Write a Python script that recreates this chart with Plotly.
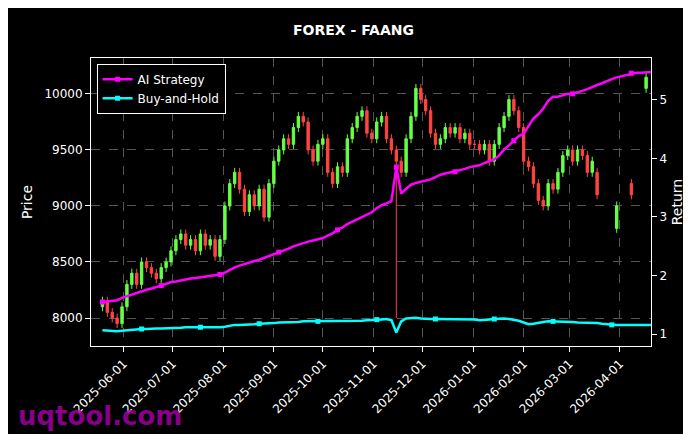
import plotly.graph_objects as go
import pandas as pd

dates = pd.date_range("2025-05-19", periods=113, freq="3D")
closes = [8150, 8050, 8000, 7950, 8100,
          8300, 8400, 8300, 8500, 8450,
          8400, 8350, 8450, 8500, 8600,
          8700, 8750, 8650, 8700, 8600,
          8750, 8650, 8700, 8550, 8700,
          9000, 9200, 9300, 9150, 8950,
          9100, 9000, 9150, 8900, 9200,
          9400, 9500, 9600, 9550, 9700,
          9800, 9750, 9500, 9400, 9550,
          9600, 9300, 9200, 9350, 9300,
          9600, 9700, 9800, 9850, 9650,
          9600, 9750, 9800, 9600, 9500,
          9400, 9300, 9600, 9800, 10050, 9950,
          9850, 9650, 9550, 9600, 9700,
          9650, 9700, 9600, 9650, 9550,
          9550, 9500, 9550, 9400, 9550,
          9700, 9800, 9950, 9850, 9700,
          9400, 9350, 9200, 9050, 9000,
          9200, 9150, 9300, 9450, 9500,
          9400, 9500, 9450, 9300, 9400,
          9100, None, None, None, 9000, None, None, 9100, None, None, 10150, None, None]
opens = [8100, 8150, 8050, 8000, 7950,
         8100, 8300, 8400, 8300, 8500,
         8450, 8400, 8350, 8450, 8500,
         8600, 8700, 8750, 8650, 8700,
         8600, 8750, 8650, 8700, 8550,
         8700, 9000, 9200, 9300, 9150,
         8950, 9100, 9000, 9150, 8900,
         9200, 9400, 9500, 9600, 9550,
         9700, 9800, 9750, 9500, 9400,
         9550, 9600, 9300, 9200, 9350,
         9300, 9600, 9700, 9800, 9850,
         9650, 9600, 9750, 9800, 9600,
         9500, 9400, 9300, 9600, 9800, 10050,
         9950, 9850, 9650, 9550, 9600,
         9700, 9650, 9700, 9600, 9650,
         9550, 9550, 9500, 9550, 9400,
         9550, 9700, 9800, 9950, 9850,
         9700, 9400, 9350, 9200, 9050,
         9000, 9200, 9150, 9300, 9450,
         9500, 9400, 9500, 9450, 9300,
         9300, None, None, None, 8800, None, None, 9200, None, None, 10050, None, None]
spike_low = {60: 8000}

ai_ret = [1.55, 1.56, 1.57, 1.58, 1.62, 1.65, 1.68, 1.70, 1.73, 1.76, 1.78, 1.80, 1.83, 1.86, 1.89,
          1.90, 1.92, 1.93, 1.95, 1.96, 1.97, 1.98, 1.99, 2.00, 2.02, 2.05,
          2.10, 2.14, 2.17, 2.20, 2.23, 2.25, 2.27, 2.30, 2.33, 2.36,
          2.40, 2.43, 2.46, 2.50, 2.53, 2.55, 2.58, 2.60, 2.62, 2.64,
          2.68, 2.72, 2.78, 2.82, 2.88, 2.92, 2.96, 3.00, 3.04, 3.08,
          3.15, 3.20, 3.23, 3.27, 3.85, 3.40, 3.48, 3.55, 3.58, 3.60,
          3.62, 3.64, 3.68, 3.72, 3.74, 3.76, 3.77, 3.79, 3.82, 3.85,
          3.86, 3.88, 3.92, 3.95, 3.98, 4.05, 4.15, 4.22, 4.30, 4.38,
          4.42, 4.55, 4.68, 4.75, 4.85, 4.98, 5.05, 5.05, 5.08, 5.10,
          5.10, 5.12, 5.15, 5.18, 5.22, 5.25, 5.28, 5.32, 5.35, 5.38,
          5.40, 5.42, 5.45, 5.46, 5.46, 5.47, 5.47]
bh_ret = [1.07, 1.06, 1.05, 1.05, 1.06, 1.07, 1.08, 1.08, 1.09, 1.09, 1.10, 1.10, 1.10, 1.10, 1.11,
          1.11, 1.11, 1.12, 1.12, 1.12, 1.12, 1.12, 1.11, 1.12, 1.12, 1.13, 1.15, 1.16, 1.16, 1.16, 1.17, 1.17, 1.18, 1.18, 1.19, 1.19,
          1.20, 1.20, 1.21, 1.21, 1.21, 1.22, 1.22, 1.22, 1.22, 1.23, 1.23, 1.23, 1.22, 1.22, 1.22, 1.23, 1.23, 1.23, 1.24, 1.24,
          1.25, 1.25, 1.26, 1.24, 1.03, 1.22, 1.27, 1.28, 1.28, 1.27,
          1.26, 1.26, 1.26, 1.26, 1.26, 1.25, 1.25, 1.25, 1.25, 1.25, 1.25, 1.24, 1.24, 1.25, 1.26, 1.27, 1.27, 1.26, 1.25, 1.23,
          1.20, 1.17, 1.18, 1.20, 1.21, 1.22, 1.22, 1.22, 1.22, 1.21, 1.21, 1.20, 1.20, 1.19, 1.20, 1.19, 1.18, 1.17, 1.16, 1.16,
          1.16, 1.16, 1.16, 1.16, 1.16, 1.16, 1.16]

highs, lows = [], []
for i, (o, c) in enumerate(zip(opens, closes)):
    if o is None or c is None:
        highs.append(None); lows.append(None); continue
    highs.append(max(o, c) + 40)
    lows.append(spike_low.get(i, min(o, c) - 40))

fig = go.Figure()
fig.add_trace(go.Candlestick(x=dates, open=opens, high=highs, low=lows, close=closes,
                             increasing=dict(line=dict(color="#66ff44", width=1), fillcolor="#66ff44"),
                             decreasing=dict(line=dict(color="#ff4444", width=1), fillcolor="#ff4444"),
                             whiskerwidth=0, showlegend=False, yaxis="y"))
fig.add_trace(go.Scatter(x=dates, y=ai_ret, name="AI Strategy", mode="lines+markers",
                         line=dict(color="#ff00ff", width=2.5), marker=dict(size=5, symbol="square", maxdisplayed=10),
                         yaxis="y2"))
fig.add_trace(go.Scatter(x=dates, y=bh_ret, name="Buy-and-Hold", mode="lines+markers",
                         line=dict(color="#00ffff", width=2.5), marker=dict(size=5, symbol="square", maxdisplayed=10),
                         yaxis="y2"))

grid = dict(showgrid=True, gridcolor="#555555", griddash="dash", gridwidth=0.6)
fig.update_layout(
    width=691, height=434, paper_bgcolor="black", plot_bgcolor="black",
    font=dict(family="DejaVu Sans", color="white", size=12),
    title=dict(text="<b>FOREX - FAANG</b>", x=0.5, y=0.96, xanchor="center", font=dict(size=14)),
    margin=dict(l=83, r=48, t=50, b=96),
    xaxis=dict(range=["2025-05-12", "2026-04-20"], rangeslider=dict(visible=False),
               tickformat="%Y-%m-%d", dtick="M1", tick0="2025-06-01", tickangle=-45,
               showline=True, linecolor="white", mirror=True, ticks="outside", tickcolor="white", **grid),
    yaxis=dict(title=dict(text="Price", standoff=8), range=[7750, 10321], tickvals=[8000, 8500, 9000, 9500, 10000],
               tickformat="d",
               showline=True, linecolor="white", mirror=True, ticks="outside", tickcolor="white", **grid),
    yaxis2=dict(title=dict(text="Return", standoff=6), overlaying="y", side="right", range=[0.80, 5.71],
                tickvals=[1, 2, 3, 4, 5], showgrid=False, ticks="outside", tickcolor="white", zeroline=False),
    legend=dict(x=0.01, y=0.98, xanchor="left", yanchor="top", bgcolor="black",
                bordercolor="white", borderwidth=1, font=dict(size=12)),
    annotations=[dict(text="<b>uqtool.com</b>", xref="paper", yref="paper", x=-0.134, y=-0.243,
                      xanchor="left", yanchor="middle", showarrow=False,
                      font=dict(size=26, color="rgba(160,0,160,0.85)"))],
)
fig.write_html("out.html")
